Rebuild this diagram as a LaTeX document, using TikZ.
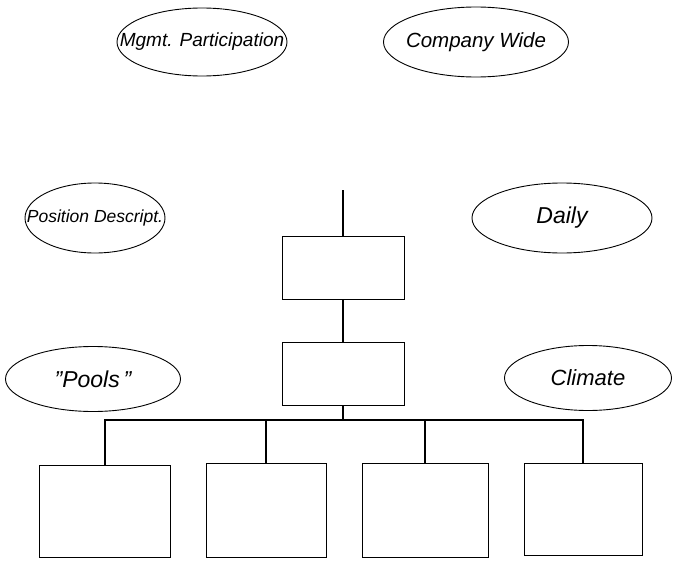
\documentclass[tikz,border=0pt]{standalone}
\usepackage{fontspec}
\setmainfont{Liberation Sans}
\usetikzlibrary{shapes.geometric}

\begin{document}
\begin{tikzpicture}[x=1pt, y=-1pt,
    topic/.style={ellipse, draw, line width=0.9pt, inner sep=0pt},
    lettering/.style={inner sep=0pt, font=\fontsize{#1}{#1}\selectfont\itshape},
    unit/.style={rectangle, draw, line width=1pt, inner sep=0pt},
    link/.style={line width=1.8pt}]
    \useasboundingbox (0,0) rectangle (673,562);

    % Ellipses
    \node[topic, minimum width=170, minimum height=68,
      label={[lettering=19]center:Mgmt. Participation}] (mgmt) at (202,42) {};
    \node[topic, minimum width=185, minimum height=70,
      label={[lettering=20.5]center:Company Wide}] (wide) at (476,42) {};
    \node[topic, minimum width=140, minimum height=70,
      label={[lettering=17.5]center:Position Descript.}] (desc) at (95,218) {};
    \node[topic, minimum width=180, minimum height=70,
      label={[lettering=23]center:Daily}] (daily) at (562,218) {};
    \node[topic, minimum width=175, minimum height=65,
      label={[lettering=23]center:"Pools\,"}] (pools) at (93,379) {};
    \node[topic, minimum width=167, minimum height=65,
      label={[lettering=22]center:Climate}] (clim) at (588,378) {};

    % Boxes
    \node[unit, minimum width=122, minimum height=63] (top) at (343,268) {};
    \node[unit, minimum width=122, minimum height=63] (mid) at (343,374) {};
    \node[unit, minimum width=131, minimum height=92] (subA) at (105,511) {};
    \node[unit, minimum width=120, minimum height=94] (subB) at (266,510) {};
    \node[unit, minimum width=126, minimum height=94] (subC) at (425,510) {};
    \node[unit, minimum width=118, minimum height=92] (subD) at (583,509) {};
    \coordinate (head) at (343,190);
    \coordinate (bar) at (343,420);

    % Lines
    \draw[link] (head) -- (top);
    \draw[link] (top) -- (mid);
    \draw[link] (mid) -- (bar);
    \draw[link] (bar) -| (subA);
    \draw[link] (bar) -| (subB);
    \draw[link] (bar) -| (subC);
    \draw[link] (bar) -| (subD);
\end{tikzpicture}
\end{document}
